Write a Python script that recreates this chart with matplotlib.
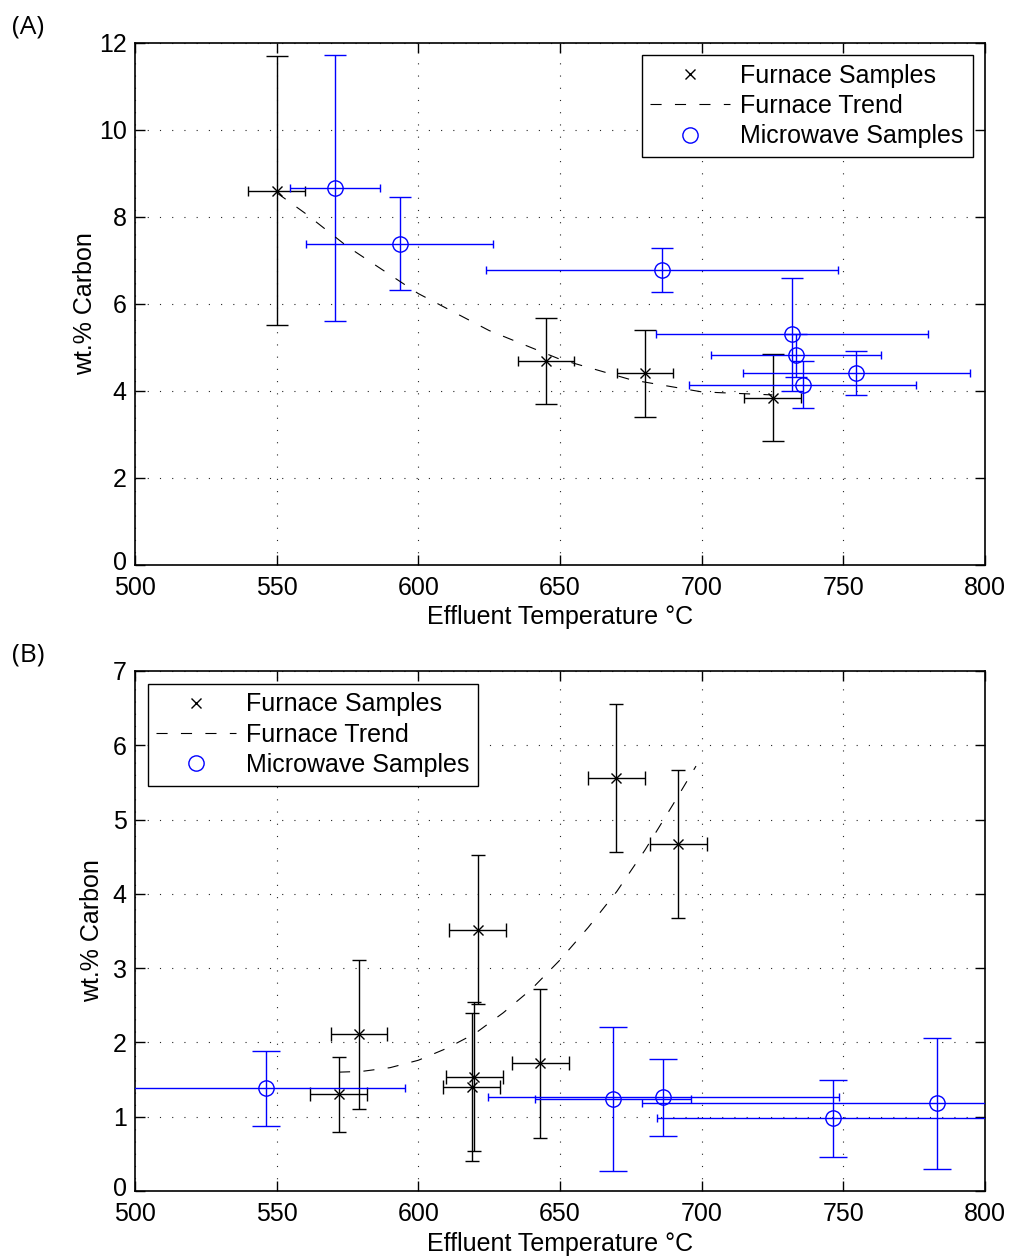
import numpy as np
import matplotlib
matplotlib.use('Agg')
import matplotlib.pyplot as plt
import matplotlib.transforms as mtransforms
from matplotlib.lines import Line2D

plt.rcParams['font.family'] = ['Liberation Sans', 'DejaVu Sans']

# (A) furnace samples
furn_a_x = [550, 645, 680, 725]
furn_a_y = [8.60, 4.68, 4.40, 3.83]
furn_a_xerr = [10, 10, 10, 10]
furn_a_yerr = [3.10, 0.98, 1.00, 1.00]

# (A) furnace trend
trend_a_x = [550, 560, 575, 600, 625, 650, 675, 700, 725]
trend_a_y = [8.55, 8.08, 7.31, 6.23, 5.38, 4.72, 4.25, 3.97, 3.90]

# (A) microwave samples
mw_a_x = [570.6, 593.4, 686.0, 731.9, 733.3, 754.6, 735.6]
mw_a_y = [8.66, 7.38, 6.77, 5.29, 4.81, 4.40, 4.13]
mw_a_xerr = [15.8, 33, 62, 48, 30, 40, 40]
mw_a_yerr = [3.06, 1.07, 0.51, 1.29, 0.50, 0.51, 0.54]

# (B) furnace samples
furn_b_x = [571.9, 579.1, 618.8, 619.8, 620.9, 643.0, 669.9, 691.8]
furn_b_y = [1.30, 2.11, 1.40, 1.54, 3.52, 1.72, 5.56, 4.67]
furn_b_xerr = [10, 10, 10, 10, 10, 10, 10, 10]
furn_b_yerr = [0.51, 1.00, 1.00, 1.00, 1.00, 1.00, 1.00, 1.00]

# (B) furnace trend
trend_b_x = [572, 580, 590, 600, 610, 620, 630, 640, 650, 660, 670, 680, 690, 698]
trend_b_y = [1.60, 1.61, 1.66, 1.76, 1.92, 2.12, 2.40, 2.72, 3.11, 3.55, 4.03, 4.59, 5.21, 5.72]

# (B) microwave samples
mw_b_x = [546.3, 668.8, 686.5, 746.4, 783.1]
mw_b_y = [1.38, 1.24, 1.26, 0.98, 1.18]
mw_b_xerr = [49, 27.5, 62, 62, 104]
mw_b_yerr = [0.51, 0.97, 0.52, 0.52, 0.88]

labels = ['Furnace Samples', 'Furnace Trend', 'Microwave Samples']
dash = (0, (10, 12))
W, H = 1010, 1259

fig = plt.figure(figsize=(W / 100, H / 100), dpi=100)
ax_a = fig.add_axes([135 / W, 1 - 564.5 / H, 850 / W, 521.8 / H])
ax_b = fig.add_axes([135 / W, 1 - 1191 / H, 850 / W, 520 / H])


def style_axes(ax, ymax, ystep, ylabpad):
    ax.set_xlim(500, 800)
    ax.set_ylim(0, ymax)
    ax.set_xticks(np.arange(500, 801, 50))
    ax.set_yticks(np.arange(0, ymax + 0.1, ystep))
    ax.grid(True, color='0.15', linestyle=(0, (1, 10)), linewidth=0.8)
    ax.set_axisbelow(True)
    ax.tick_params(direction='in', length=7, width=1, top=True, right=True,
                   labelsize=18)
    ax.tick_params(axis='x', pad=8)
    ax.tick_params(axis='y', pad=6)
    for s in ax.spines.values():
        s.set_linewidth(1.2)
    ax.set_xlabel('Effluent Temperature °C', fontsize=18, labelpad=4)
    ax.set_ylabel('wt.% Carbon', fontsize=18, labelpad=ylabpad)
    # lift the "0" label a touch so it clears the "500" below it
    fig.canvas.draw()
    lab0 = ax.get_yticklabels()[0]
    lab0.set_transform(lab0.get_transform() +
                       mtransforms.ScaledTranslation(0, 3 / 72, fig.dpi_scale_trans))


def draw_series(ax, x, y, xerr, yerr, color, marker, ms, ycap, xcap, lw=1.0):
    ax.errorbar(x, y, yerr=yerr, fmt='none', ecolor=color, elinewidth=lw,
                capsize=ycap, capthick=lw, zorder=3)
    ax.errorbar(x, y, xerr=xerr, fmt='none', ecolor=color, elinewidth=lw,
                capsize=xcap, capthick=lw, zorder=3)
    ax.plot(x, y, linestyle='none', marker=marker, markersize=ms,
            markerfacecolor='none', markeredgecolor=color, markeredgewidth=1.0,
            zorder=4)


# panel A
style_axes(ax_a, 12, 2, 1)
draw_series(ax_a, furn_a_x, furn_a_y, furn_a_xerr, furn_a_yerr, 'k', 'x', 7, 7.9, 3.3)
ax_a.plot(trend_a_x, trend_a_y, color='k', linestyle=dash, linewidth=0.8, zorder=5)
draw_series(ax_a, mw_a_x, mw_a_y, mw_a_xerr, mw_a_yerr, 'b', 'o', 11, 7.9, 3.1)

# panel B
style_axes(ax_b, 7, 1, 6)
draw_series(ax_b, furn_b_x, furn_b_y, furn_b_xerr, furn_b_yerr, 'k', 'x', 7, 5.2, 5.2)
ax_b.plot(trend_b_x, trend_b_y, color='k', linestyle=dash, linewidth=0.8, zorder=5)
draw_series(ax_b, mw_b_x, mw_b_y, mw_b_xerr, mw_b_yerr, 'b', 'o', 11, 10.4, 3.0)

handles = [
    Line2D([], [], color='k', marker='x', linestyle='none', markersize=7, markeredgewidth=1.0),
    Line2D([], [], color='k', linestyle=dash, linewidth=0.8),
    Line2D([], [], color='b', marker='o', markerfacecolor='none', linestyle='none',
           markersize=11, markeredgewidth=1.0),
]
for ax, loc in [(ax_a, 'upper right'), (ax_b, 'upper left')]:
    leg = ax.legend(handles, labels, loc=loc, fontsize=18, frameon=True, fancybox=False,
                    framealpha=1, edgecolor='k', borderpad=0.35, labelspacing=0.25,
                    handlelength=3.2, handletextpad=0.4, borderaxespad=0.5)
    leg.get_frame().set_linewidth(1.0)

fig.text(28 / W, 1 - 27 / H, '(A)', fontsize=19, family=['Open Sans', 'DejaVu Sans'],
         ha='center', va='center')
fig.text(28 / W, 1 - 655 / H, '(B)', fontsize=19, family=['Open Sans', 'DejaVu Sans'],
         ha='center', va='center')

fig.savefig('out.png', dpi=100)
